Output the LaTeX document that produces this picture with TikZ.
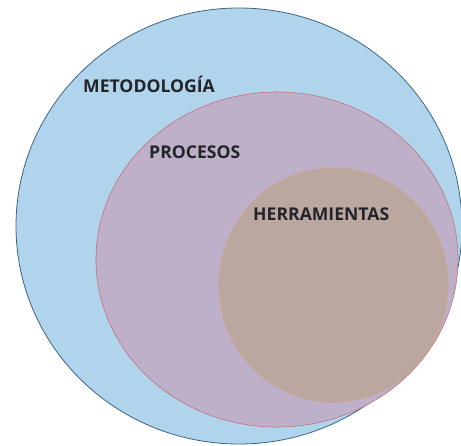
\documentclass[tikz,border=0pt]{standalone}
\usepackage{fontspec}
\setmainfont{Open Sans}
\usepackage{tikz}
\usetikzlibrary{positioning}
\definecolor{metblue}{RGB}{176,212,236}
\definecolor{metborder}{RGB}{62,100,132}
\definecolor{procmauve}{RGB}{190,176,200}
\definecolor{procborder}{RGB}{196,112,126}
\definecolor{herrtan}{RGB}{186,168,160}
\definecolor{herrborder}{RGB}{204,164,132}
\definecolor{labeldark}{RGB}{35,35,42}

\begin{document}
\begin{tikzpicture}[x=1pt, y=-1pt,
  label/.style={font=\fontsize{17.6}{20}\selectfont\bfseries, text=labeldark, inner sep=0pt}]
  \useasboundingbox (0,0) rectangle (461,445);

  % Metodologia (outer)
  \clip (0,0) rectangle (461,445);
  \draw[metborder, fill=metblue, line width=0.8pt] (239,226) ellipse (223 and 218);

  % Procesos (middle)
  \draw[procborder, fill=procmauve, line width=0.6pt] (277,259.5) ellipse (181 and 167.5);

  % Herramientas (inner)
  \draw[herrborder, fill=herrtan, line width=0.6pt] (333.5,285) ellipse (114.5 and 117);

  % Labels
  \node[label, anchor=west] (met) at (83,84) {METODOLOGÍA};
  \node[label, anchor=west] (proc) at (149,152) {PROCESOS};
  \node[label, anchor=west] (herr) at (253,214) {HERRAMIENTAS};
\end{tikzpicture}
\end{document}
